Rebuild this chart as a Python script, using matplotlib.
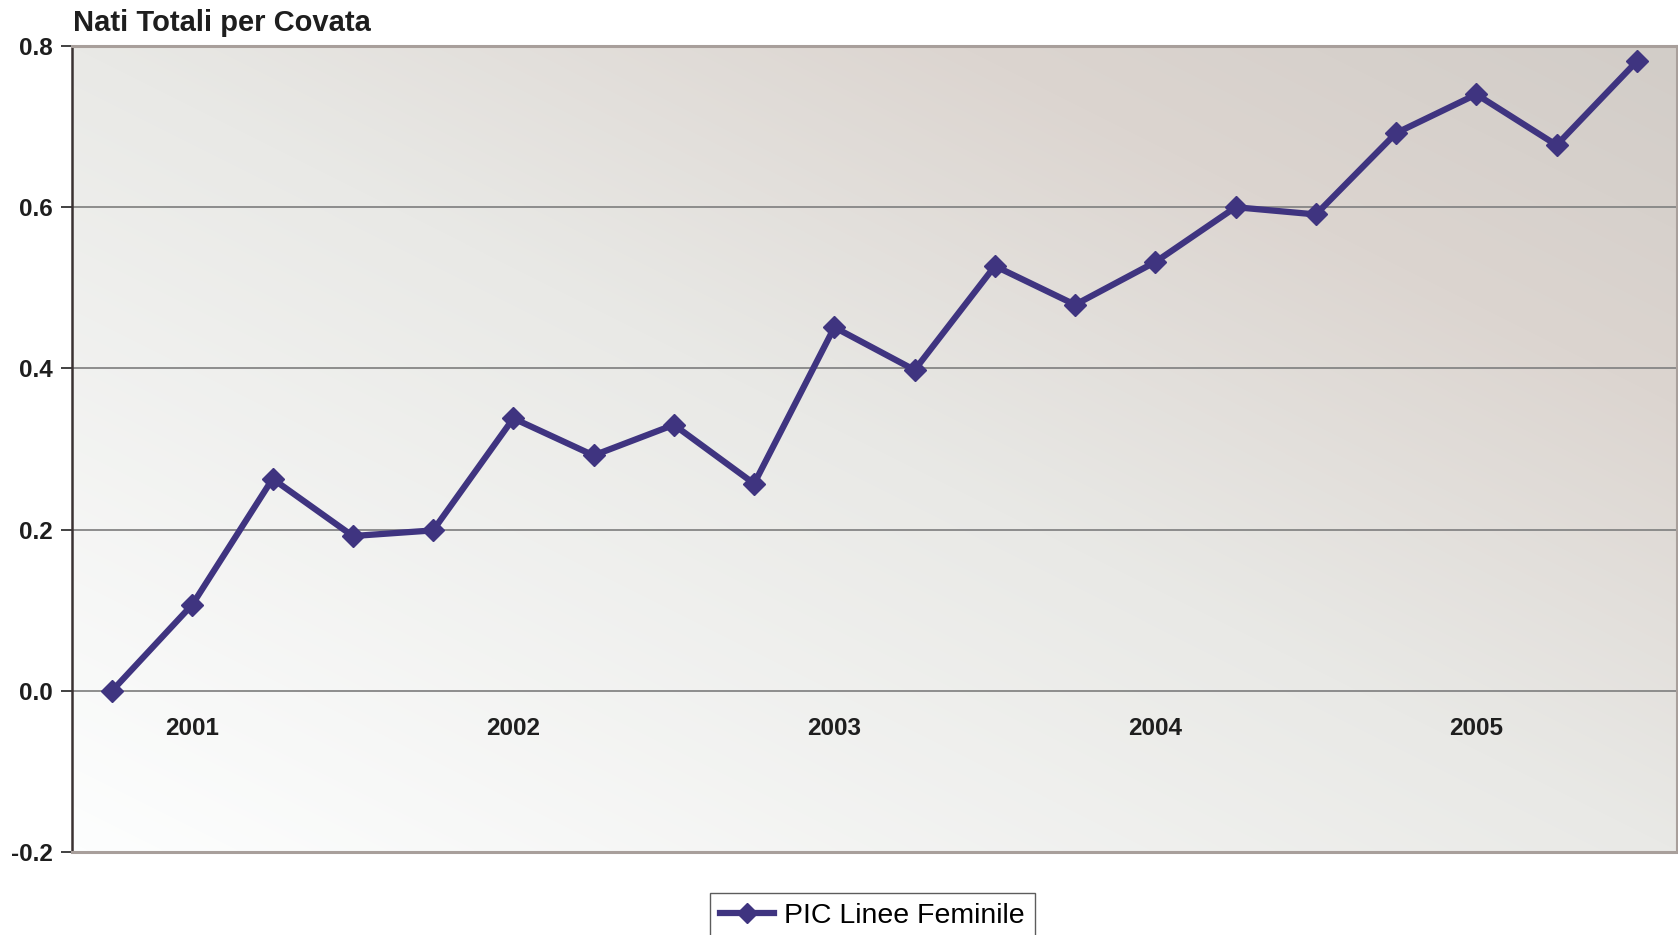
import numpy as np
import matplotlib
matplotlib.use("Agg")
import matplotlib.pyplot as plt
from matplotlib.colors import LinearSegmentedColormap
from matplotlib.lines import Line2D

# quarterly series, one year label every fourth point
values = [0.000, 0.107, 0.263, 0.192, 0.199, 0.338, 0.292, 0.330, 0.257, 0.451,
          0.398, 0.527, 0.479, 0.532, 0.600, 0.591, 0.692, 0.740, 0.677, 0.781]
year_pos = [1, 5, 9, 13, 17]
year_labels = ["2001", "2002", "2003", "2004", "2005"]
y_ticks = [-0.2, 0.0, 0.2, 0.4, 0.6, 0.8]

INDIGO = "#3f3480"
INK = "#1e1e1e"

plt.rcParams["font.family"] = ["Liberation Sans", "DejaVu Sans"]

fig = plt.figure(figsize=(16.78, 9.35), dpi=100)
ax = fig.add_axes([0.0429, 0.0888, 0.9565, 0.862])

# diagonal wash: white at bottom-left to warm taupe at top-right
cmap = LinearSegmentedColormap.from_list(
    "wash", [(0.0, "#fdfefe"), (0.5, "#e9e9e6"), (0.78, "#dcd5d0"), (1.0, "#d2cdc8")])
gx, gy = np.meshgrid(np.linspace(0, 1, 400), np.linspace(1, 0, 200))
ax.imshow((gx + gy) / 2, cmap=cmap, extent=[0, 1, 0, 1], transform=ax.transAxes,
          aspect="auto", interpolation="bilinear", zorder=0, vmin=0, vmax=1)

x = np.arange(len(values))
for y in [0.0, 0.2, 0.4, 0.6]:
    ax.axhline(y, color="#858585", lw=1.3, zorder=1)
ax.plot(x, values, color=INDIGO, lw=4.5, marker="D", ms=11.5,
        solid_joinstyle="miter", zorder=3)

ax.set_xlim(-0.5, len(values) - 0.5)
ax.set_ylim(-0.2, 0.8)
ax.set_yticks(y_ticks)
ax.set_yticklabels([f"{t:.1f}" for t in y_ticks], fontsize=17.5, fontweight="bold", color=INK)
ax.tick_params(axis="y", direction="out", length=8, width=1.3, color="#333333", pad=6)
ax.set_xticks([])

for side in ["top", "bottom"]:
    ax.spines[side].set_color("#a89f9b")
    ax.spines[side].set_linewidth(2.2)
ax.spines["left"].set_color("#3a3232")
ax.spines["left"].set_linewidth(1.8)
ax.spines["right"].set_color("#a89f9b")
ax.spines["right"].set_linewidth(1.5)

# year labels hang from the zero line
sec = ax.secondary_xaxis(0.2)
sec.set_xticks(year_pos)
sec.set_xticklabels(year_labels, fontsize=17.5, fontweight="bold", color=INK)
sec.tick_params(length=0, pad=19)
sec.spines["bottom"].set_visible(False)

fig.text(0.0435, 0.975, "Nati Totali per Covata", fontsize=21, fontweight="bold",
         color=INK, va="center", ha="left")

handle = Line2D([], [], color=INDIGO, lw=4.5, marker="D", ms=10)
leg = fig.legend([handle], ["PIC Linee Feminile"], loc="upper center",
                 bbox_to_anchor=(0.52, 0.0449), fontsize=20.5, frameon=True,
                 fancybox=False, edgecolor="#333333", handlelength=1.9,
                 handletextpad=0.35, borderpad=0.35, borderaxespad=0)
leg.get_frame().set_linewidth(1.0)

fig.savefig("out.png", dpi=100, facecolor="white")
